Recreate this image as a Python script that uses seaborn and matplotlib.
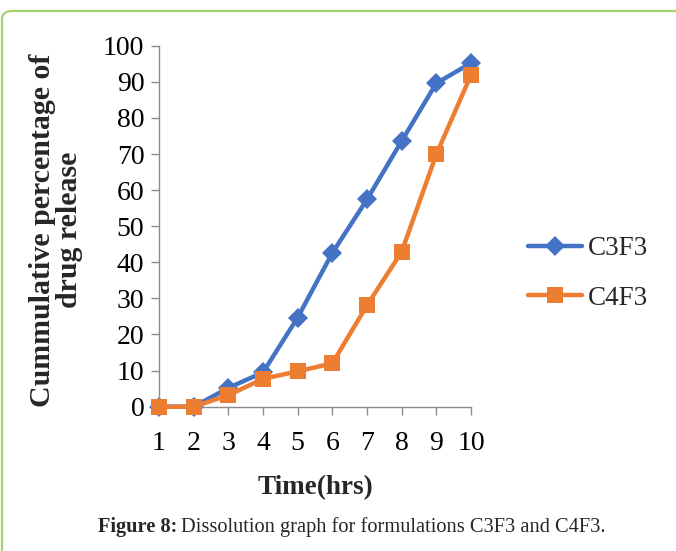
import matplotlib
matplotlib.use("Agg")
import matplotlib.pyplot as plt
import seaborn as sns
import pandas as pd
from matplotlib.patches import FancyBboxPatch

time_hrs = [1, 2, 3, 4, 5, 6, 7, 8, 9, 10]
c3f3 = [0, 0, 5.2, 9.5, 24.7, 42.6, 57.4, 73.6, 89.6, 95.2]
c4f3 = [0, 0, 3.2, 7.7, 9.8, 12.0, 28.1, 42.9, 69.9, 91.9]
series_names = ["C3F3", "C4F3"]
y_ticks = [0, 10, 20, 30, 40, 50, 60, 70, 80, 90, 100]

df = pd.DataFrame({
    "Time": time_hrs * 2,
    "Release": c3f3 + c4f3,
    "Formulation": [series_names[0]] * len(time_hrs) + [series_names[1]] * len(time_hrs),
})

sns.set_theme(style="white")
plt.rcParams["font.family"] = ["Liberation Serif", "DejaVu Serif"]

fig = plt.figure(figsize=(6.76, 5.51), dpi=100)
ax = fig.add_axes([159 / 676, 1 - 406.7 / 551, (471 - 159) / 676, (406.7 - 45.7) / 551])

palette = {"C3F3": "#4472C4", "C4F3": "#ED7D31"}
sns.lineplot(data=df, x="Time", y="Release", hue="Formulation", style="Formulation",
             markers={"C3F3": "D", "C4F3": "s"}, dashes=False, palette=palette,
             linewidth=3.2, markersize=10, markeredgewidth=0, ax=ax, legend=False)
for ln in ax.get_lines():
    if ln.get_marker() == "s":
        ln.set_markersize(11)
        ln.set_zorder(3)
    else:
        ln.set_zorder(2.5)
    ln.set_clip_on(False)

ax.set_xlim(1, 10)
ax.set_ylim(0, 100)
ax.set_xticks(time_hrs)
ax.set_yticks(y_ticks)
ax.set_xlabel("")
ax.set_ylabel("")
for s in ["top", "right"]:
    ax.spines[s].set_visible(False)
for s in ["left", "bottom"]:
    ax.spines[s].set_color("#8c8c8c")
    ax.spines[s].set_linewidth(1.0)
ax.tick_params(axis="both", which="major", direction="out", length=5.5, width=1.0,
               color="#8c8c8c", labelsize=20, labelcolor="black", bottom=True, left=True)
ax.tick_params(axis="x", pad=12)
ax.tick_params(axis="y", pad=5)
ax.grid(False)

handles = ax.get_lines()[:2]
leg = fig.legend(handles, series_names, loc="center left", bbox_to_anchor=(528 / 676, 1 - 273.5 / 551),
                 frameon=False, fontsize=19.5, handlelength=2.0, handletextpad=0.2,
                 labelspacing=0.9, borderpad=0, borderaxespad=0)

fig.text(56 / 676, 1 - 230 / 551, "Cummulative percentage of\ndrug release", rotation=90,
         ha="center", va="center", fontsize=21.5, fontweight="bold", linespacing=1.02)
fig.text(315 / 676, 1 - 488 / 551, "Time(hrs)", ha="center", va="center",
         fontsize=19.5, fontweight="bold")

cap_bold = fig.text(98 / 676, 1 - 527 / 551, "Figure 8:", ha="left", va="center",
                    fontsize=14.7, fontweight="bold")
fig.canvas.draw()
bb = cap_bold.get_window_extent()
fig.text((bb.x1 + 4) / 676, 1 - 527 / 551, "Dissolution graph for formulations C3F3 and C4F3.",
         ha="left", va="center", fontsize=14.7)

border = FancyBboxPatch((2 / 676, -0.2), 1.2, 1 - 11 / 551 + 0.2,
                        boxstyle="round,pad=0,rounding_size=0.015",
                        transform=fig.transFigure, fill=False, edgecolor="#A6D372",
                        linewidth=1.6, clip_on=False)
fig.patches.append(border)

fig.savefig("out.png", dpi=100)
